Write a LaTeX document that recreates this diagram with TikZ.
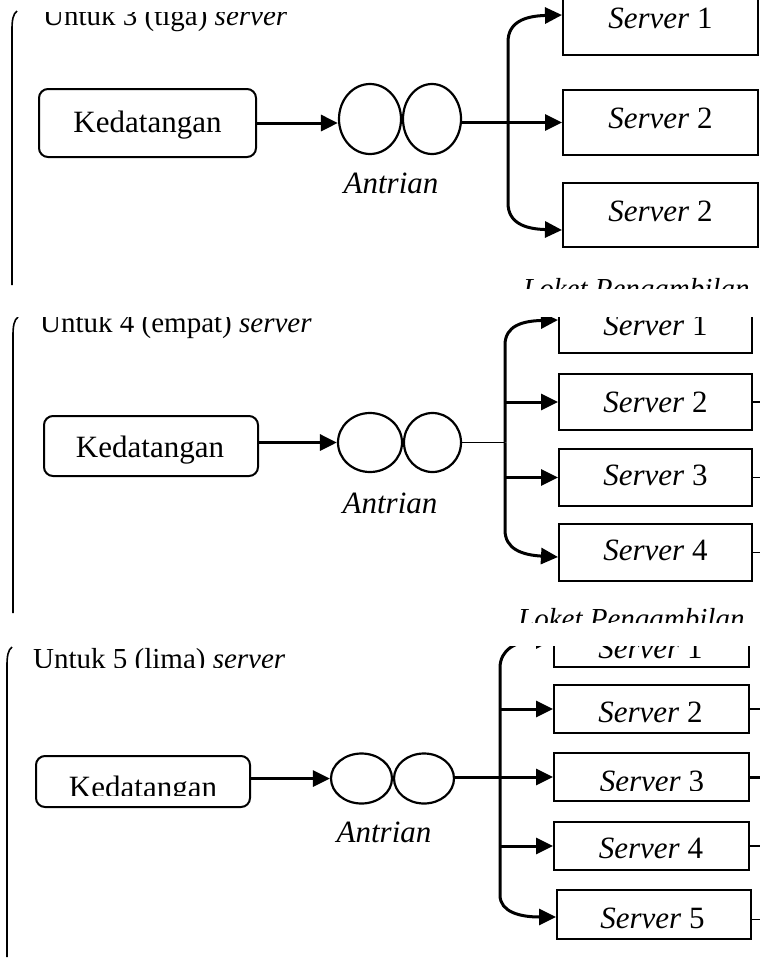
\documentclass[tikz,border=0pt]{standalone}
\usepackage{fontspec}
\setmainfont{Liberation Serif}
\usetikzlibrary{arrows.meta,shapes.geometric,calc}
\begin{document}
\begin{tikzpicture}[x=1pt,y=-1pt,
 arr/.style={line width=3pt,-{Triangle[length=17pt,width=16pt]}},
 kbox/.style={draw,line width=2pt,rounded corners=9pt,inner sep=0pt},
 sbox/.style={draw,line width=2pt,inner sep=0pt,minimum width=195pt},
 qcirc/.style={draw,ellipse,line width=2.2pt,inner sep=0pt},
 btxt/.style={anchor=base,inner sep=0pt,font=\fontsize{31}{36}\selectfont},
 stxt/.style={anchor=base,inner sep=0pt,font=\fontsize{31}{36}\selectfont},
 ttl/.style={anchor=base west,inner sep=0pt,font=\fontsize{29}{34}\selectfont},
 lkt/.style={anchor=base west,inner sep=0pt,font=\fontsize{29}{34}\selectfont\itshape},
 brk/.style={line width=1.6pt},
 thinl/.style={line width=1.2pt},
 thickl/.style={line width=3pt}
]
\useasboundingbox (0,0) rectangle (760,959);
\fill[white] (0,0) rectangle (760,959);

% ---------------- Panel 1 ----------------
\begin{scope}
\clip (0,0) rectangle (760,288);
\draw[brk] (17,11) .. controls (13,14) and (12,20) .. (12,30) -- (12,285);
\begin{scope}
\clip (0,12) rectangle (400,40);
\node[ttl] (t1) at (43,25) {Untuk 3 (tiga) \textit{server}};
\end{scope}
\node[kbox,minimum width=217pt,minimum height=68pt] (k1) at (147.5,123) {};
\node[btxt] (k1t) at (147.5,132) {Kedatangan};
\node[qcirc,minimum width=62pt,minimum height=70pt] (a1) at (370,119) {};
\node[qcirc,minimum width=58pt,minimum height=70pt] (b1) at (432,119) {};
\node[stxt] (q1) at (391,193) {\textit{Antrian}};
\draw[arr] (k1.east) -- (k1.east -| a1.west);

\node[sbox,minimum height=65pt] (s11) at (660.5,22.5) {};
\node[sbox,minimum height=65pt] (s12) at (660.5,122.5) {};
\node[sbox,minimum height=64pt] (s13) at (660.5,215) {};
\node[stxt] (s11t) at (660.5,28) {\textit{Server} 1};
\node[stxt] (s12t) at (660.5,128) {\textit{Server} 2};
\node[stxt] (s13t) at (660.5,221) {\textit{Server} 2};

\coordinate (f1) at (508,122.5);
\draw[arr] (b1.east |- s12.west) -- (s12.west);
\draw[arr] (f1) -- (508,42) .. controls (508,22) and (525,16) .. ($(s11.west)+(0,-7.5)$);
\draw[arr] (f1) -- (508,203) .. controls (508,223) and (525,229) .. ($(s13.west)+(0,15)$);
\node[lkt] (l1) at (523,298) {Loket Pengambilan};
\end{scope}

% ---------------- Panel 2 ----------------
\begin{scope}
\clip (0,317) rectangle (760,622);
\draw[brk] (18,317) .. controls (14,320) and (13,326) .. (13,336) -- (13,613);
\node[ttl] (t2) at (40,332) {Untuk 4 (empat) \textit{server}};
\node[kbox,minimum width=214pt,minimum height=60pt] (k2) at (151,446) {};
\node[btxt] (k2t) at (150,457) {Kedatangan};
\node[qcirc,minimum width=64pt,minimum height=59pt] (a2) at (370,442.5) {};
\node[qcirc,minimum width=57pt,minimum height=59pt] (b2) at (432.5,442.5) {};
\node[stxt] (q2) at (390,513) {\textit{Antrian}};
\draw[arr] (k2.east |- a2.west) -- (a2.west);

\node[sbox,minimum width=193pt,minimum height=56pt] (s21) at (655.5,325) {};
\node[sbox,minimum width=193pt,minimum height=56pt] (s22) at (655.5,402) {};
\node[sbox,minimum width=193pt,minimum height=57pt] (s23) at (655.5,477.5) {};
\node[sbox,minimum width=193pt,minimum height=57pt] (s24) at (655.5,552.5) {};
\node[stxt] (s21t) at (655.5,335) {\textit{Server} 1};
\node[stxt] (s22t) at (655.5,412) {\textit{Server} 2};
\node[stxt] (s23t) at (655.5,485) {\textit{Server} 3};
\node[stxt] (s24t) at (655.5,560) {\textit{Server} 4};

\coordinate (f2) at (505,442.5);
\draw[thinl] (b2.east) -- (f2);
\draw[arr] (f2) -- (505,345) .. controls (505,326) and (522,321) .. ($(s21.west)+(0,-5)$);
\draw[arr] (f2) -- (505,530) .. controls (505,549) and (522,555) .. ($(s24.west)+(0,4.5)$);
\draw[arr] (f2 |- s22.west) -- (s22.west);
\draw[arr] (f2 |- s23.west) -- (s23.west);
\draw[thinl] (s22.east) -- ++(10,0);
\draw[thinl] (s23.east) -- ++(10,0);
\draw[thinl] (s24.east) -- ++(10,0);
\node[lkt] (l2) at (518,628) {Loket Pengambilan};
\end{scope}

% ---------------- Panel 3 ----------------
\begin{scope}
\clip (0,646) rectangle (760,959);
\draw[brk] (12,647) .. controls (8,650) and (7,656) .. (7,666) -- (7,957);
\begin{scope}
\clip (0,640) rectangle (400,667);
\node[ttl] (t3) at (33,668.5) {Untuk 5 (lima) \textit{server}};
\end{scope}
\node[kbox,minimum width=214pt,minimum height=51pt] (k3) at (143,781.5) {};
\begin{scope}
\clip (0,700) rectangle (300,795);
\node[btxt] (k3t) at (143,797) {Kedatangan};
\end{scope}
\node[qcirc,minimum width=61pt,minimum height=50pt] (a3) at (361.5,778.5) {};
\node[qcirc,minimum width=60pt,minimum height=50pt] (b3) at (424,778.5) {};
\node[stxt] (q3) at (384,842) {\textit{Antrian}};
\draw[arr] (k3.east |- a3.west) -- (a3.west);

\node[sbox,minimum height=48pt] (s31) at (651.5,643) {};
\node[sbox,minimum height=48pt] (s32) at (651.5,709) {};
\node[sbox,minimum height=48pt] (s33) at (651.5,777) {};
\node[sbox,minimum height=48pt] (s34) at (651.5,846) {};
\node[sbox,minimum width=194pt,minimum height=49pt] (s35) at (654,914.5) {};
\node[stxt] (s31t) at (650.5,658) {\textit{Server} 1};
\node[stxt] (s32t) at (650.5,722) {\textit{Server} 2};
\begin{scope}
\clip (540,740) rectangle (760,790);
\node[stxt] (s33t) at (652,791) {\textit{Server} 3};
\end{scope}
\node[stxt] (s34t) at (651,858) {\textit{Server} 4};
\node[stxt] (s35t) at (652.5,928) {\textit{Server} 5};

\coordinate (f3) at (500,777);
\draw[arr] (b3.east |- s33.west) -- (s33.west);
\draw[arr] (f3) -- (500,668) .. controls (500,650) and (515,641) .. ($(s31.west)+(0,-3)$);
\draw[arr] (f3) -- (500,895) .. controls (500,912) and (520,917) .. ($(s35.west)+(0,2.5)$);
\draw[arr] (f3 |- s32.west) -- (s32.west);
\draw[arr] (f3 |- s34.west) -- (s34.west);
\draw[thinl] (s32.east) -- ++(10,0);
\draw[thickl] (s33.east) -- ++(10,0);
\draw[thinl] (s34.east) -- ++(10,0);
\draw[thinl] ($(s35.east)+(0,5)$) -- ++(10,0);
\end{scope}
\end{tikzpicture}
\end{document}
